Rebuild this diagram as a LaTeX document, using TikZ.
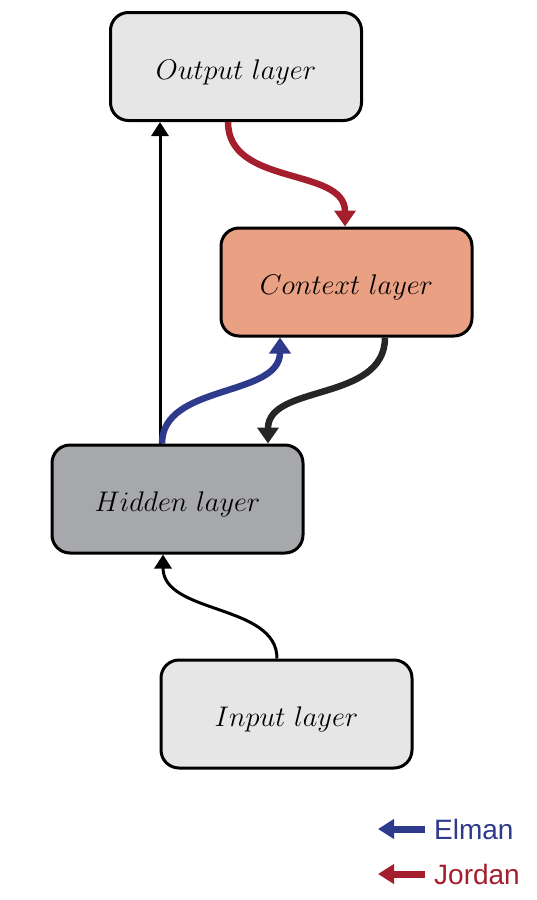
\documentclass[tikz,border=0pt]{standalone}
\usepackage{graphicx}
\usepackage{fontspec}
\newfontfamily\legendfont{Liberation Sans}
\usetikzlibrary{arrows.meta,calc}
\definecolor{boxgray}{HTML}{E6E6E6}
\definecolor{hidgray}{HTML}{A7A8AB}
\definecolor{ctxfill}{HTML}{E9A083}
\definecolor{jordanred}{HTML}{A51E2E}
\definecolor{elmanblue}{HTML}{2E3A8C}
\definecolor{darkarrow}{HTML}{262626}
\newcommand{\layertext}[1]{\scalebox{1.14}{$#1$}}
\begin{document}
\begin{tikzpicture}[x=1pt,y=-1pt,
  layer/.style={draw=black,line width=3pt,rounded corners=18pt,minimum width=251pt,minimum height=108pt,inner sep=0pt,text height=25pt,text depth=0pt,font=\fontsize{24.88}{30}\selectfont},
  thinarrow/.style={line width=3pt,black,-{Triangle[length=14pt,width=17pt]}},
  thickarrow/.style={line width=6.5pt,-{Triangle[length=16pt,width=21pt]}},
]
\useasboundingbox (0,0) rectangle (536,900);
\node[layer,fill=boxgray] (out) at (236,66.5) {\layertext{Output\ layer}};
\node[layer,fill=ctxfill] (ctx) at (346.5,282) {\layertext{Context\ layer}};
\node[layer,fill=hidgray] (hid) at (177.5,499) {\layertext{Hidden\ layer}};
\node[layer,fill=boxgray] (inp) at (286.5,714) {\layertext{Input\ layer}};
% hidden -> output
\draw[thinarrow] ([xshift=-17.5pt]hid.north) -- ([xshift=-17.5pt]hid.north |- out.south);
% input -> hidden
\draw[thinarrow] ([xshift=-9.5pt]inp.north) .. controls +(0,-55) and +(0,60) .. ([xshift=-14.5pt]hid.south);
% output -> context (Jordan)
\draw[thickarrow,jordanred] ([xshift=-8pt]out.south) .. controls +(0,65) and +(0,-60) .. ([xshift=-1.5pt]ctx.north);
% hidden -> context (Elman)
\draw[thickarrow,elmanblue] ([xshift=-15.5pt]hid.north) .. controls +(0,-60) and +(0,60) .. ([xshift=-66.5pt]ctx.south);
% context -> hidden
\draw[thickarrow,darkarrow] ([xshift=38.5pt]ctx.south) .. controls +(0,65) and +(0,-60) .. ([xshift=90.5pt]hid.north);
% legend
\coordinate (e1) at (425,829);
\coordinate (e2) at (378,829);
\coordinate (j1) at (425,874);
\coordinate (j2) at (378,874);
\draw[line width=7pt,elmanblue,-{Triangle[length=16pt,width=19pt]}] (e1) -- (e2);
\draw[line width=7pt,jordanred,-{Triangle[length=16pt,width=19pt]}] (j1) -- (j2);
\node[anchor=west,inner sep=0pt,text=elmanblue,font=\legendfont\fontsize{28}{32}\selectfont] (elman) at (434,829) {Elman};
\node[anchor=west,inner sep=0pt,text=jordanred,font=\legendfont\fontsize{28}{32}\selectfont] (jordan) at (434,874) {Jordan};
\end{tikzpicture}
\end{document}
